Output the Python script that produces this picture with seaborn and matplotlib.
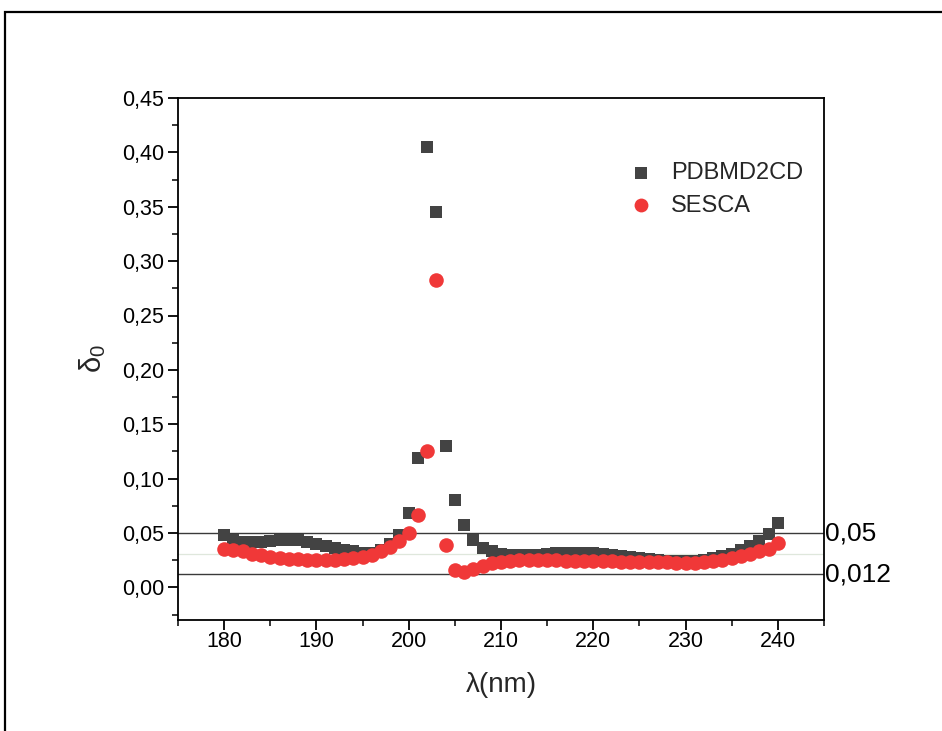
import numpy as np
import pandas as pd
import matplotlib
matplotlib.use("Agg")
import matplotlib.pyplot as plt
from matplotlib.patches import Rectangle
from matplotlib.ticker import MultipleLocator, FuncFormatter
import seaborn as sns

# Wavelength grid (nm)
wavelength = list(range(180, 241))

# Deviation delta_0 per wavelength
pdbmd2cd = [
    0.048, 0.044, 0.042, 0.042, 0.042, 0.043, 0.044, 0.044, 0.044, 0.042,
    0.040, 0.038, 0.036, 0.034, 0.033, 0.032, 0.032, 0.034, 0.040, 0.048,
    0.068, 0.119, 0.405, 0.345, 0.130, 0.080, 0.057, 0.044, 0.036, 0.033,
    0.031, 0.030, 0.030, 0.030, 0.030, 0.031, 0.032, 0.032, 0.032, 0.032,
    0.032, 0.031, 0.030, 0.029, 0.028, 0.027, 0.026, 0.025, 0.024, 0.024,
    0.024, 0.024, 0.025, 0.027, 0.029, 0.031, 0.034, 0.038, 0.043, 0.049,
    0.059,
]
sesca = [
    0.035, 0.034, 0.033, 0.031, 0.030, 0.028, 0.027, 0.026, 0.026, 0.025,
    0.025, 0.025, 0.025, 0.026, 0.027, 0.028, 0.030, 0.033, 0.037, 0.043,
    0.050, 0.067, 0.125, 0.283, 0.039, 0.016, 0.014, 0.017, 0.020, 0.022,
    0.023, 0.024, 0.025, 0.025, 0.025, 0.025, 0.025, 0.024, 0.024, 0.024,
    0.024, 0.024, 0.024, 0.023, 0.023, 0.023, 0.023, 0.023, 0.023, 0.022,
    0.022, 0.022, 0.023, 0.024, 0.025, 0.027, 0.029, 0.031, 0.033, 0.035,
    0.041,
]

series_names = ["PDBMD2CD", "SESCA"]
reference_levels = [0.05, 0.012]
reference_labels = ["0,05", "0,012"]
mean_level = 0.031

df = pd.DataFrame({
    "wavelength": wavelength * 2,
    "delta": pdbmd2cd + sesca,
    "method": [series_names[0]] * len(wavelength) + [series_names[1]] * len(wavelength),
})

sns.set_theme(style="ticks")
plt.rcParams["font.family"] = ["Liberation Sans", "DejaVu Sans"]
plt.rcParams["mathtext.fontset"] = "custom"
plt.rcParams["mathtext.rm"] = "Liberation Sans"
plt.rcParams["mathtext.it"] = "Liberation Sans"

fig = plt.figure(figsize=(9.42, 7.31), dpi=100)
ax = fig.add_axes([178 / 942, 1 - 620 / 731, (824 - 178) / 942, (620 - 98) / 731])

# Reference levels
ax.axhline(mean_level, color="#dfe7dc", lw=0.9, zorder=1)
for lvl in reference_levels:
    ax.axhline(lvl, color="#3a3a3a", lw=1.0, zorder=1)

palette = {series_names[0]: "#434343", series_names[1]: "#f03838"}
markers = {series_names[0]: "s", series_names[1]: "o"}
sizes = {series_names[0]: 78, series_names[1]: 110}

for name in series_names:
    sub = df[df["method"] == name]
    sns.scatterplot(data=sub, x="wavelength", y="delta", ax=ax,
                    color=palette[name], marker=markers[name], s=sizes[name],
                    linewidth=0, label=name, zorder=3)

ax.set_xlim(175, 245)
ax.set_ylim(-0.03, 0.45)
ax.xaxis.set_major_locator(MultipleLocator(10))
ax.xaxis.set_minor_locator(MultipleLocator(5))
ax.yaxis.set_major_locator(MultipleLocator(0.05))
ax.yaxis.set_minor_locator(MultipleLocator(0.025))
ax.yaxis.set_major_formatter(FuncFormatter(lambda v, p: f"{v:.2f}".replace(".", ",")))

ax.tick_params(axis="both", which="major", direction="out", length=7, width=1.3,
               labelsize=15.5, colors="black")
ax.tick_params(axis="both", which="minor", direction="out", length=4, width=1.3)
ax.tick_params(axis="x", pad=1)
ax.tick_params(axis="y", pad=3)
for sp in ax.spines.values():
    sp.set_visible(True)
    sp.set_linewidth(1.3)
    sp.set_color("black")

ax.set_xlabel("λ(nm)", fontsize=20, labelpad=14)
ax.set_ylabel(r"δ$_0$", fontsize=21, labelpad=10)

# Labels of the reference levels on the right border
for lvl, txt in zip(reference_levels, reference_labels):
    ax.text(1.002, lvl, txt, transform=ax.get_yaxis_transform(),
            ha="left", va="center", fontsize=19, color="black", clip_on=False)

leg = ax.legend(loc="upper left", bbox_to_anchor=(0.648, 0.918), frameon=False,
                fontsize=17, handletextpad=0.25, labelspacing=0.45,
                markerscale=0.95)

# Outer frame around the figure
fig.patches.append(Rectangle((5 / 942, -0.1), 1.2, 1 - 12 / 731 + 0.1,
                             transform=fig.transFigure, fill=False,
                             ec="black", lw=1.6))

fig.savefig("out.png", dpi=100, facecolor="white")
